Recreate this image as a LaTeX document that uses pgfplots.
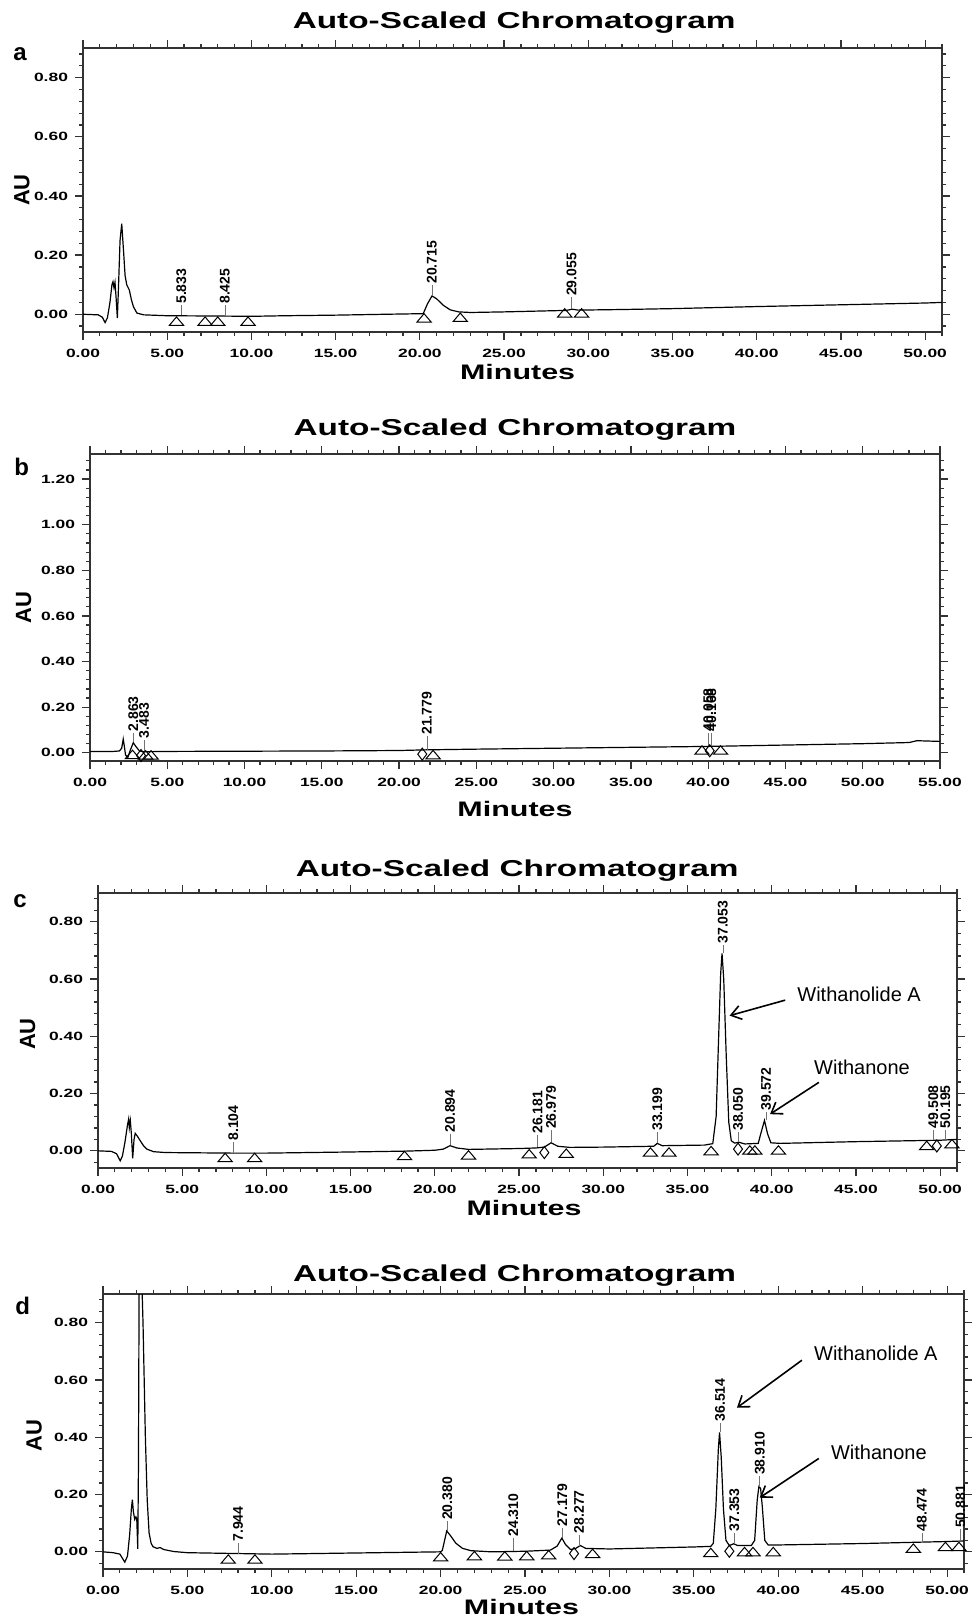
\documentclass[border=0pt]{standalone}
\usepackage{pgfplots}
\pgfplotsset{compat=1.18}
\usepackage{fontspec}
\setmainfont{Liberation Sans}
\newfontfamily\widefont[FakeStretch=1.45]{Liberation Sans}
\usetikzlibrary{arrows.meta}

% peak label: x, label bottom, leader start, text
\newcommand{\pk}[4]{%
  \draw[black!55, line width=0.3pt] (axis cs:#1,#3) -- (axis cs:#1,#2);
  \node[rotate=90, anchor=west, inner sep=0.6pt, font=\bfseries\fontsize{7}{8}\selectfont] at (axis cs:#1,#2) {#4};}

\tikzset{
  note/.style={font=\fontsize{10}{12}\selectfont, anchor=west, inner sep=0pt},
  arr/.style={line width=0.8pt, -{Straight Barb[length=5pt, width=7pt]}},
}

\pgfplotsset{
  chrom/.style={
    scale only axis,
    axis line style={line width=1pt, black!80},
    every tick/.style={line width=0.6pt, black!80},
    tick align=outside,
    major tick length=4pt,
    minor tick length=2pt,
    xtick={0,5,...,55}, minor xtick={0,1,...,55},
    ytick={0,0.2,0.4,0.6,0.8,1.0,1.2},
    minor ytick={-0.04,0,0.04,...,1.28},
    xmin=0, xmax=51, ymin=-0.06, ymax=0.90,
    /pgf/number format/fixed,
    /pgf/number format/fixed zerofill,
    /pgf/number format/precision=2,
    /pgf/number format/assume math mode=true,
    tick label style={font=\widefont\bfseries\fontsize{6}{7}\selectfont},
    xticklabel style={yshift=-1pt},
    title={Auto-Scaled Chromatogram},
    xlabel={Minutes}, ylabel={AU},
    every axis title shift=0pt,
    title style={font=\widefont\bfseries\fontsize{11.5}{13}\selectfont, anchor=center},
    xlabel style={font=\widefont\bfseries\fontsize{10.5}{12}\selectfont, anchor=center},
    ylabel style={font=\bfseries\fontsize{11}{12}\selectfont, anchor=center},
  },
  trace/.style={black, line width=0.6pt, no markers},
  tri/.style={only marks, mark=triangle, mark size=3.3pt,
    mark options={xscale=1.25, yscale=0.85, line width=0.5pt, black, fill=none}},
  dia/.style={only marks, mark=diamond, mark size=3pt,
    mark options={line width=0.5pt, black, fill=none}},
}

\begin{document}
\begin{tikzpicture}
\path[use as bounding box] (0,0) rectangle (489.5pt,-808pt);

\node[font=\bfseries\fontsize{12}{14}\selectfont] at (10pt,-27pt) {a};
\node[font=\bfseries\fontsize{12}{14}\selectfont] at (10.8pt,-233.3pt) {b};
\node[font=\bfseries\fontsize{12}{14}\selectfont] at (10pt,-450.8pt) {c};
\node[font=\bfseries\fontsize{12}{14}\selectfont] at (11.3pt,-652.8pt) {d};

% ---------------- panel a
\begin{axis}[chrom, at={(41.5pt,-166pt)}, anchor=south west,
  width=429.5pt, height=142pt,
  title style={at={(axis description cs:0.502,1.088)}},
  xlabel style={at={(axis description cs:0.506,-0.141)}},
  ylabel style={at={(axis description cs:-0.071,0.5)}}]
\addplot[trace] coordinates {
(0,0) (0.9,-0.002) (1.15,-0.010) (1.31,-0.028) (1.45,-0.012) (1.6,0.040)
(1.72,0.100) (1.78,0.110) (1.84,0.090) (1.90,0.108) (1.96,0.060) (2.04,-0.013)
(2.10,0.080) (2.20,0.250) (2.30,0.306) (2.40,0.220) (2.50,0.130) (2.60,0.099)
(2.75,0.082) (2.87,0.050) (2.99,0.026) (3.2,0.004) (3.6,-0.002) (5.0,-0.005)
(8.0,-0.006) (10.0,-0.007) (12.0,-0.005) (15.0,-0.003) (18.0,0.000) (20.2,0.002)
(20.45,0.035) (20.72,0.062) (21.0,0.052) (21.4,0.030) (21.8,0.015) (22.3,0.008)
(23.0,0.006) (25.0,0.008) (28.7,0.013) (29.05,0.017) (29.4,0.014) (32.0,0.016)
(35.0,0.019) (40.0,0.026) (45.0,0.032) (50.0,0.038) (51.0,0.040)};
\addplot[tri] coordinates {(5.55,-0.028) (7.25,-0.028) (8.0,-0.028) (9.8,-0.028)
(20.25,-0.017) (22.4,-0.015) (28.6,0.0) (29.6,0.0)};
\pk{5.83}{0.03}{-0.004}{5.833}
\pk{8.42}{0.03}{-0.005}{8.425}
\pk{20.715}{0.098}{0.064}{20.715}
\pk{29.0}{0.057}{0.018}{29.055}
\end{axis}

% ---------------- panel b
\begin{axis}[chrom, at={(45pt,-380.5pt)}, anchor=south west,
  width=425pt, height=153.5pt,
  xmax=55, ymin=-0.036, ymax=1.31,
  title style={at={(axis description cs:0.5,1.078)}},
  xlabel style={at={(axis description cs:0.5,-0.156)}},
  ylabel style={at={(axis description cs:-0.078,0.5)}}]
\addplot[trace] coordinates {
(0,0.006) (1.5,0.006) (1.9,0.008) (2.05,0.020) (2.15,0.060) (2.22,0.030)
(2.3,-0.010) (2.45,-0.020) (2.6,0.010) (2.8,0.044) (3.0,0.025) (3.2,0.008)
(3.5,0.004) (3.8,0.005) (5.0,0.006) (10.0,0.007) (15.0,0.008) (20.0,0.010)
(21.78,0.013) (25.0,0.016) (30.0,0.020) (35.0,0.024) (40.0,0.028) (45.0,0.034)
(50.0,0.040) (53.0,0.045) (53.5,0.053) (54.0,0.052) (55.0,0.050)};
\addplot[tri] coordinates {(2.75,-0.013) (3.6,-0.015) (3.95,-0.015)
(22.2,-0.014) (39.6,0.006) (40.8,0.006)};
\addplot[dia] coordinates {(3.3,-0.012) (21.5,-0.006) (40.1,0.009)};
\pk{2.8}{0.087}{0.046}{2.863}
\pk{3.5}{0.057}{0.006}{3.483}
\pk{21.8}{0.072}{0.014}{21.779}
\pk{40.0}{0.088}{0.030}{40.058}
\pk{40.2}{0.088}{0.030}{40.168}
\end{axis}

% ---------------- panel c
\begin{axis}[chrom, at={(49pt,-584pt)}, anchor=south west,
  width=429.5pt, height=137.5pt,
  title style={at={(axis description cs:0.488,1.08)}},
  xlabel style={at={(axis description cs:0.496,-0.145)}},
  ylabel style={at={(axis description cs:-0.082,0.487)}}]
\addplot[trace] coordinates {
(0,0) (0.8,-0.002) (1.1,-0.010) (1.32,-0.035) (1.45,-0.018) (1.6,0.030)
(1.75,0.090) (1.82,0.111) (1.86,0.080) (1.92,0.105) (1.98,0.060) (2.06,-0.026)
(2.14,0.040) (2.21,0.061) (2.35,0.050) (2.51,0.035) (2.7,0.018) (2.9,0.006)
(3.3,-0.003) (4.0,-0.006) (8.0,-0.008) (10.0,-0.008) (15.0,-0.004) (18.3,-0.001)
(20.0,0.002) (20.5,0.006) (20.9,0.018) (21.3,0.010) (22.0,0.005) (25.0,0.008)
(26.0,0.010) (26.5,0.013) (26.9,0.028) (27.3,0.016) (28.0,0.012) (30.0,0.013)
(33.0,0.016) (33.2,0.026) (33.5,0.018) (36.0,0.020) (36.5,0.025) (36.7,0.120)
(36.85,0.400) (36.97,0.620) (37.05,0.689) (37.15,0.600) (37.3,0.330) (37.45,0.100)
(37.6,0.035) (37.8,0.027) (38.05,0.030) (38.4,0.024) (39.2,0.026) (39.35,0.060)
(39.57,0.106) (39.75,0.060) (39.95,0.028) (40.5,0.026) (45.0,0.032) (50.0,0.037)
(51.0,0.040)};
\addplot[tri] coordinates {(7.55,-0.028) (9.3,-0.028) (18.2,-0.021) (22.0,-0.019)
(25.6,-0.015) (27.8,-0.013) (32.8,-0.009) (33.9,-0.009) (36.4,-0.004)
(38.7,-0.002) (39.0,-0.002) (40.4,-0.002) (49.2,0.014) (50.7,0.020)};
\addplot[dia] coordinates {(26.5,-0.006) (38.0,0.006) (49.8,0.017)};
\pk{8.04}{0.03}{-0.006}{8.104}
\pk{20.9}{0.059}{0.020}{20.894}
\pk{26.1}{0.054}{0.012}{26.181}
\pk{26.9}{0.071}{0.030}{26.979}
\pk{33.2}{0.065}{0.028}{33.199}
\pk{37.1}{0.718}{0.690}{37.053}
\pk{38.0}{0.065}{0.030}{38.050}
\pk{39.67}{0.136}{0.106}{39.572}
\pk{49.6}{0.074}{0.037}{49.508}
\pk{50.3}{0.074}{0.038}{50.195}
\node[note] at (axis cs:41.5,0.547) {Withanolide A};
\draw[arr] (axis cs:40.8,0.526) -- (axis cs:37.5,0.472);
\node[note] at (axis cs:42.5,0.291) {Withanone};
\draw[arr] (axis cs:42.8,0.239) -- (axis cs:39.9,0.128);
\end{axis}

% ---------------- panel d
\begin{axis}[chrom, at={(51.5pt,-784.5pt)}, anchor=south west,
  width=430.5pt, height=137.5pt,
  title style={at={(axis description cs:0.478,1.068)}},
  xlabel style={at={(axis description cs:0.486,-0.138)}},
  ylabel style={at={(axis description cs:-0.080,0.484)}}]
\addplot[trace] coordinates {
(0,0) (0.6,-0.003) (1.0,-0.008) (1.29,-0.036) (1.45,-0.015) (1.58,0.060)
(1.68,0.150) (1.74,0.182) (1.80,0.140) (1.88,0.113) (1.95,0.122) (2.00,0.115)
(2.06,0.010) (2.10,0.300) (2.15,1.100) (2.25,1.050) (2.37,0.800) (2.51,0.400)
(2.62,0.180) (2.73,0.066) (2.85,0.030) (2.96,0.018) (3.2,0.012) (3.38,0.015)
(3.6,0.008) (4.2,0.001) (5.0,-0.003) (8.0,-0.006) (10.0,-0.008) (15.0,-0.004)
(20.0,0.000) (20.1,0.005) (20.36,0.073) (20.6,0.055) (20.9,0.030) (21.3,0.012)
(21.8,0.004) (23.0,0.000) (25.0,0.002) (26.5,0.006) (26.9,0.020) (27.18,0.048)
(27.4,0.025) (27.7,0.008) (28.0,0.012) (28.27,0.022) (28.6,0.012) (30.0,0.010)
(35.0,0.017) (36.0,0.019) (36.15,0.030) (36.3,0.150) (36.45,0.360) (36.52,0.417)
(36.62,0.330) (36.75,0.150) (36.9,0.040) (37.1,0.022) (37.35,0.028) (37.6,0.022)
(38.4,0.022) (38.6,0.040) (38.75,0.180) (38.85,0.228) (38.95,0.222) (39.05,0.160)
(39.2,0.040) (39.4,0.024) (40.0,0.024) (45.0,0.029) (50.0,0.036) (51.0,0.038)};
\addplot[tri] coordinates {(7.42,-0.030) (9.0,-0.030) (20.0,-0.022) (22.0,-0.018)
(23.8,-0.019) (25.1,-0.018) (26.4,-0.015) (29.0,-0.010) (36.0,-0.007)
(38.0,-0.004) (38.5,-0.004) (39.7,-0.004) (48.0,0.008) (49.9,0.014) (50.7,0.014)};
\addplot[dia] coordinates {(27.9,-0.006) (37.1,0.002)};
\pk{8.0}{0.03}{-0.006}{7.944}
\pk{20.4}{0.106}{0.073}{20.380}
\pk{24.3}{0.048}{0.002}{24.310}
\pk{27.2}{0.083}{0.048}{27.179}
\pk{28.2}{0.060}{0.022}{28.277}
\pk{36.55}{0.450}{0.417}{36.514}
\pk{37.4}{0.066}{0.028}{37.353}
\pk{38.9}{0.263}{0.228}{38.910}
\pk{48.5}{0.066}{0.030}{48.474}
\pk{50.8}{0.078}{0.037}{50.881}
\node[note] at (axis cs:42.1,0.693) {Withanolide A};
\draw[arr] (axis cs:41.4,0.669) -- (axis cs:37.55,0.503);
\node[note] at (axis cs:43.1,0.349) {Withanone};
\draw[arr] (axis cs:42.4,0.326) -- (axis cs:38.9,0.189);
\end{axis}
\end{tikzpicture}
\end{document}
